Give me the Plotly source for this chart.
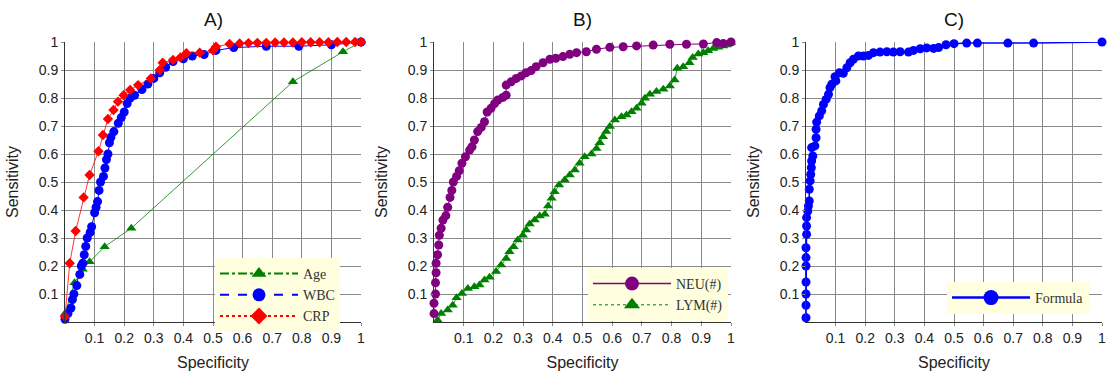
import plotly.graph_objects as go
from plotly.subplots import make_subplots

# ---------------- Data ----------------
# Panel A
age_x = [0.0, 0.032, 0.06, 0.083, 0.134, 0.224, 0.77, 0.939, 1.0]
age_y = [0.03, 0.14, 0.188, 0.215, 0.269, 0.335, 0.858, 0.965, 1.0]

wbc_x = [0.0, 0.01, 0.02, 0.025, 0.03, 0.04, 0.05, 0.055, 0.06, 0.065, 0.07, 0.075, 0.085, 0.09, 0.1, 0.105,
         0.11, 0.115, 0.12, 0.13, 0.135, 0.14, 0.145, 0.15, 0.155, 0.165, 0.18, 0.19, 0.2, 0.21, 0.22, 0.235,
         0.26, 0.28, 0.3, 0.32, 0.34, 0.365, 0.4, 0.43, 0.47, 0.51, 0.57, 0.68, 0.79, 0.9, 1.0]
wbc_y = [0.01, 0.03, 0.05, 0.08, 0.1, 0.13, 0.17, 0.2, 0.21, 0.24, 0.27, 0.3, 0.32, 0.34, 0.39, 0.41,
         0.43, 0.47, 0.5, 0.52, 0.55, 0.58, 0.6, 0.64, 0.66, 0.68, 0.71, 0.73, 0.75, 0.78, 0.8, 0.81,
         0.83, 0.85, 0.87, 0.89, 0.91, 0.93, 0.94, 0.95, 0.955, 0.97, 0.98, 0.985, 0.985, 0.99, 1.0]

crp_x = [0.0, 0.016, 0.036, 0.063, 0.083, 0.113, 0.128, 0.145, 0.164, 0.179, 0.198, 0.22, 0.247, 0.29,
         0.32, 0.33, 0.365, 0.39, 0.41, 0.455, 0.5, 0.51, 0.556, 0.59, 0.62, 0.65, 0.68, 0.71, 0.74, 0.77,
         0.8, 0.83, 0.86, 0.89, 0.92, 0.95, 0.98, 1.0]
crp_y = [0.02, 0.21, 0.325, 0.445, 0.525, 0.61, 0.668, 0.725, 0.757, 0.787, 0.81, 0.829, 0.846, 0.87,
         0.9, 0.926, 0.936, 0.945, 0.96, 0.962, 0.97, 0.983, 0.993, 0.995, 0.996, 0.997, 0.997, 0.998,
         0.998, 0.998, 0.999, 0.999, 0.999, 0.999, 1.0, 1.0, 1.0, 1.0]

# Panel B
neu_x = [0.0, 0.0, 0.005, 0.005, 0.007, 0.007, 0.012, 0.016, 0.018, 0.024, 0.03, 0.04, 0.046, 0.054, 0.06,
         0.065, 0.076, 0.085, 0.094, 0.106, 0.12, 0.128, 0.136, 0.147, 0.159, 0.17, 0.179, 0.192, 0.204,
         0.215, 0.232, 0.243, 0.243, 0.26, 0.277, 0.294, 0.31, 0.327, 0.344, 0.367, 0.39, 0.41, 0.434,
         0.457, 0.48, 0.513, 0.547, 0.592, 0.637, 0.682, 0.738, 0.794, 0.85, 0.907, 0.952, 0.974, 1.0]
neu_y = [0.03, 0.067, 0.1, 0.14, 0.176, 0.21, 0.24, 0.275, 0.31, 0.335, 0.364, 0.38, 0.41, 0.445, 0.47,
         0.5, 0.52, 0.54, 0.567, 0.59, 0.614, 0.626, 0.65, 0.68, 0.695, 0.715, 0.75, 0.763, 0.78,
         0.793, 0.802, 0.81, 0.846, 0.858, 0.87, 0.879, 0.89, 0.898, 0.912, 0.926, 0.938, 0.942, 0.948,
         0.956, 0.962, 0.965, 0.974, 0.981, 0.983, 0.986, 0.989, 0.992, 0.992, 0.993, 0.998, 0.995, 1.0]

lym_x = [0.012, 0.024, 0.046, 0.063, 0.076, 0.094, 0.114, 0.136, 0.153, 0.17, 0.187, 0.209, 0.226, 0.243,
         0.254, 0.268, 0.282, 0.299, 0.31, 0.322, 0.339, 0.356, 0.373, 0.384, 0.396, 0.406, 0.421, 0.44,
         0.457, 0.474, 0.49, 0.507, 0.53, 0.547, 0.558, 0.569, 0.58, 0.592, 0.609, 0.631, 0.648, 0.665,
         0.682, 0.699, 0.71, 0.727, 0.749, 0.772, 0.794, 0.81, 0.819, 0.839, 0.86, 0.871, 0.89, 0.907,
         0.923, 0.94, 0.957, 0.974, 0.985, 1.0]
lym_y = [0.007, 0.03, 0.043, 0.06, 0.087, 0.102, 0.12, 0.126, 0.132, 0.15, 0.16, 0.18, 0.204, 0.227,
         0.251, 0.269, 0.293, 0.31, 0.329, 0.35, 0.364, 0.379, 0.385, 0.414, 0.442, 0.465, 0.489, 0.507,
         0.525, 0.543, 0.567, 0.59, 0.6, 0.62, 0.64, 0.662, 0.68, 0.698, 0.721, 0.733, 0.739, 0.751,
         0.763, 0.781, 0.799, 0.813, 0.823, 0.831, 0.843, 0.864, 0.906, 0.912, 0.926, 0.945, 0.957, 0.962,
         0.969, 0.977, 0.981, 0.986, 0.989, 0.998]

# Panel C
frm_x = [0.0, 0.0, 0.0, 0.0, 0.0, 0.0, 0.0, 0.002, 0.002, 0.002, 0.006, 0.008, 0.011, 0.011, 0.014, 0.016,
         0.018, 0.019, 0.023, 0.019, 0.03, 0.034, 0.034, 0.036, 0.045, 0.053, 0.059, 0.068, 0.076, 0.081,
         0.087, 0.101, 0.098, 0.113, 0.126, 0.138, 0.149, 0.16, 0.177, 0.194, 0.211, 0.228, 0.25, 0.273,
         0.295, 0.318, 0.346, 0.363, 0.386, 0.408, 0.431, 0.448, 0.473, 0.5, 0.543, 0.579, 0.682, 0.769, 1.0]
frm_y = [0.015, 0.06, 0.1, 0.143, 0.2, 0.23, 0.265, 0.313, 0.343, 0.373, 0.396, 0.414, 0.432, 0.474, 0.504,
         0.527, 0.551, 0.575, 0.593, 0.623, 0.629, 0.658, 0.688, 0.714, 0.736, 0.754, 0.777, 0.795, 0.813,
         0.837, 0.849, 0.861, 0.876, 0.89, 0.888, 0.908, 0.926, 0.938, 0.95, 0.95, 0.952, 0.962, 0.964,
         0.965, 0.964, 0.965, 0.964, 0.97, 0.976, 0.979, 0.977, 0.98, 0.99, 0.994, 0.996, 0.996, 0.996,
         0.996, 1.0]

tick_vals = [0.1, 0.2, 0.3, 0.4, 0.5, 0.6, 0.7, 0.8, 0.9, 1.0]
tick_text = ["0.1", "0.2", "0.3", "0.4", "0.5", "0.6", "0.7", "0.8", "0.9", "1"]
panel_titles = ["A)", "B)", "C)"]

GREEN = "#008000"
BLUE = "#0000FF"
RED = "#FF0000"
PURPLE = "#800080"

fig = make_subplots(rows=1, cols=3, horizontal_spacing=0.07)

def data_trace(x, y, color, symbol, size, width, col):
    fig.add_trace(go.Scatter(x=x, y=y, mode="lines+markers", showlegend=False, cliponaxis=False,
                             line=dict(color=color, width=width),
                             marker=dict(color=color, symbol=symbol, size=size, line=dict(width=0))),
                  row=1, col=col)

def legend_trace(name, color, symbol, size, dash, width, legend):
    fig.add_trace(go.Scatter(x=[None], y=[None], mode="lines+markers", name=name, legend=legend,
                             line=dict(color=color, width=width, dash=dash),
                             marker=dict(color=color, symbol=symbol, size=size, line=dict(width=0))))

# Panel A
data_trace(age_x, age_y, GREEN, "triangle-up", 9, 0.8, 1)
data_trace(wbc_x, wbc_y, BLUE, "circle", 9, 1, 1)
data_trace(crp_x, crp_y, RED, "diamond", 8, 0.8, 1)
# Panel B
data_trace(lym_x, lym_y, GREEN, "triangle-up", 9, 0.8, 2)
data_trace(neu_x, neu_y, PURPLE, "circle", 9, 1, 2)
# Panel C
data_trace(frm_x, frm_y, BLUE, "circle", 9, 1.5, 3)

legend_trace("Age", GREEN, "triangle-up", 13, "dashdot", 2, "legend")
legend_trace("WBC", BLUE, "circle", 13, "dash", 2, "legend")
legend_trace("CRP", RED, "diamond", 13, "dot", 2, "legend")
legend_trace("NEU(#)", PURPLE, "circle", 14, "solid", 1.5, "legend2")
legend_trace("LYM(#)", GREEN, "triangle-up", 14, "dot", 1, "legend2")
legend_trace("Formula", BLUE, "circle", 15, "solid", 2.5, "legend3")

# body margin is removed by the post_script below, so the figure fills the window
W, H = 1107, 372
ML, MR, MT, MB = 65, 5, 42, 50
pw = W - ML - MR
ph = H - MT - MB

def px_x(p):
    return (p - ML) / pw

def px_y(p):
    return (H - MB - p) / ph

domains = [[0.0, px_x(361)], [px_x(434), px_x(731)], [px_x(806), 1.0]]

FONT = "Arial, Liberation Sans, sans-serif"
axis_font = dict(family=FONT, size=14, color="#222222")
title_font = dict(family=FONT, size=16, color="#222222")
for i in range(3):
    xa = "xaxis" if i == 0 else f"xaxis{i+1}"
    ya = "yaxis" if i == 0 else f"yaxis{i+1}"
    common_ax = dict(range=[0, 1], tickvals=tick_vals, ticktext=tick_text,
                     showgrid=True, gridcolor="#8a8a8a", gridwidth=1, zeroline=False,
                     showline=True, linecolor="#333333", linewidth=1, mirror=False,
                     ticks="outside", ticklen=3, tickcolor="#8a8a8a", tickfont=axis_font,
                     ticklabeloverflow="allow")
    fig.layout[xa].update(domain=domains[i], title=dict(text="Specificity", font=title_font, standoff=12),
                          **common_ax)
    fig.layout[ya].update(title=dict(text="Sensitivity", font=title_font, standoff=16), **common_ax)
    cx = (domains[i][0] + domains[i][1]) / 2
    fig.add_annotation(text=panel_titles[i], x=cx, y=1, xref="paper", yref="paper",
                       xanchor="center", yanchor="bottom", yshift=10, showarrow=False,
                       font=dict(family=FONT, size=19, color="#111111"))

leg_font = dict(family="Liberation Serif, Times New Roman, serif", size=14, color="#333333")
common = dict(bgcolor="#FFFFE0", borderwidth=0, font=leg_font, itemwidth=78,
              xanchor="left", yanchor="top", tracegroupgap=0, itemclick=False)
fig.update_layout(
    legend=dict(x=px_x(215), y=px_y(258), **common),
    legend2=dict(x=px_x(588), y=px_y(268), **common),
    legend3=dict(x=px_x(947), y=px_y(282), **common),
)

fig.update_layout(width=W, height=H, margin=dict(l=ML, r=MR, t=MT, b=MB, autoexpand=False),
                  plot_bgcolor="white", paper_bgcolor="white")

fig.write_html("out.html", config={"displayModeBar": False},
               post_script="document.body.style.margin='0px';document.body.style.overflow='hidden';")
